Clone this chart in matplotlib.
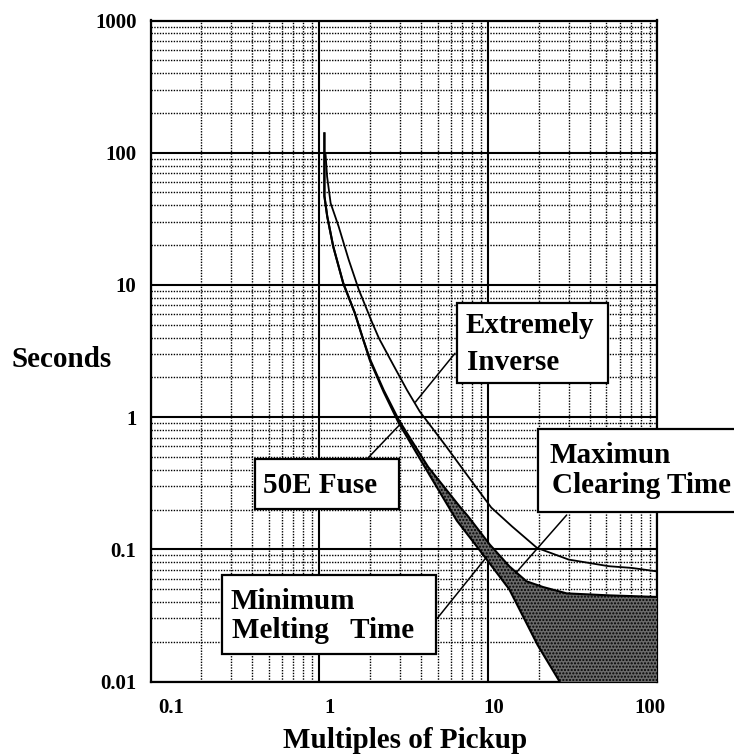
import matplotlib
matplotlib.use("Agg")
import matplotlib.pyplot as plt
from matplotlib.patches import Rectangle, ConnectionPatch
from matplotlib.ticker import LogLocator, NullFormatter, FixedLocator, FixedFormatter
from matplotlib.transforms import ScaledTranslation

plt.rcParams['font.family'] = ['Liberation Serif', 'DejaVu Serif']
plt.rcParams['hatch.color'] = 'black'
plt.rcParams['hatch.linewidth'] = 1.0

# Extremely inverse relay curve (multiples of pickup, seconds)
relay_x = [1.088, 1.11, 1.165, 1.30, 1.49, 1.71, 2.05, 2.25, 2.6, 2.8, 3.3, 3.93,
           5.53, 7.6, 10.4, 13.8, 19.4, 29.9, 51.6, 70.6, 100]
relay_y = [96, 66, 41.5, 27.6, 15.5, 9.2, 5.2, 3.95, 2.8, 2.35, 1.6, 1.10,
           0.618, 0.355, 0.207, 0.149, 0.1025, 0.0836, 0.0745, 0.0723, 0.068]

# 50E fuse, common upper part
fuse_top_x = [1.07, 1.07, 1.112, 1.207, 1.383, 1.62, 1.8]
fuse_top_y = [140, 47, 33, 19.5, 10.3, 6.13, 4.0]

# maximum clearing time
clear_x = [1.99, 2.4, 2.95, 4.40, 6.76, 7.6, 10.2, 13.3, 16.8, 21.1, 29.1, 52.3, 100]
clear_y = [2.75, 1.6, 0.95, 0.42, 0.211, 0.177, 0.1085, 0.0744, 0.0573, 0.0518,
           0.0464, 0.0448, 0.0436]

# minimum melting time
melt_x = [1.99, 2.4, 2.95, 4.40, 6.5, 8.8, 13.3, 19.6, 25.8, 30.0]
melt_y = [2.68, 1.55, 0.90, 0.38, 0.165, 0.1, 0.0498, 0.0188, 0.0105, 0.0075]

x_ticks = [0.1, 1, 10, 100]
x_labels = ['0.1', '1', '10', '100']
y_ticks = [0.01, 0.1, 1, 10, 100, 1000]
y_labels = ['0.01', '0.1', '1', '10', '100', '1000']

W, H = 734, 755
fig = plt.figure(figsize=(W / 100, H / 100), dpi=100)


def fpos(px, py):
    # pixel from top-left -> figure fraction
    return px / W, 1 - py / H


ax = fig.add_axes([150.5 / W, 1 - 681.5 / H, (657.3 - 150.5) / W, (681.5 - 20.5) / H])
ax.set_xscale('log')
ax.set_yscale('log')
ax.set_xlim(x_ticks[0], x_ticks[-1])
ax.set_ylim(y_ticks[0], y_ticks[-1])

ax.xaxis.set_major_locator(FixedLocator(x_ticks))
ax.xaxis.set_major_formatter(FixedFormatter(x_labels))
ax.yaxis.set_major_locator(FixedLocator(y_ticks))
ax.yaxis.set_major_formatter(FixedFormatter(y_labels))
for a in (ax.xaxis, ax.yaxis):
    a.set_minor_locator(LogLocator(base=10, subs=range(2, 10), numticks=20))
    a.set_minor_formatter(NullFormatter())

ax.grid(which='major', color='black', lw=1.5, ls='-')
ax.grid(which='minor', color='black', lw=1.0, ls=(0, (1, 1)))
ax.set_axisbelow(True)
ax.tick_params(which='both', length=0)
ax.tick_params(axis='y', pad=10, labelsize=15)
ax.tick_params(axis='x', pad=12, labelsize=15)
for lab in ax.get_xticklabels() + ax.get_yticklabels():
    lab.set_fontweight('bold')
for spine in ax.spines.values():
    spine.set_linewidth(1.6)

# nudge x tick labels like the original
x_shift = [21, 10, 5, -7]
for lab, dx in zip(ax.get_xticklabels(), x_shift):
    lab.set_transform(lab.get_transform() + ScaledTranslation(dx / 100, 0, fig.dpi_scale_trans))

# shaded band between minimum melting and maximum clearing
band_x = clear_x + [x_ticks[-1]] + melt_x[::-1]
band_y = clear_y + [y_ticks[0] / 2] + melt_y[::-1]
ax.fill(band_x, band_y, facecolor='#6a6a6a', edgecolor='black', linewidth=0,
        hatch='.....', zorder=3)

ax.plot(fuse_top_x + clear_x, fuse_top_y + clear_y, color='black', lw=1.5, zorder=4)
ax.plot(fuse_top_x + melt_x, fuse_top_y + melt_y, color='black', lw=1.5, zorder=4)
ax.plot(relay_x, relay_y, color='black', lw=1.3, zorder=4)

# axis titles
fig.text(*fpos(62, 366.7), 'Seconds', ha='center', va='baseline',
         fontsize=21, fontweight='bold')
fig.text(*fpos(405, 748), 'Multiples of Pickup', ha='center', va='baseline',
         fontsize=21, fontweight='bold')

# labelled boxes: (x0, y0, x1, y1) in pixels, text lines, pointer start, pointer end (data)
boxes = [
    ((456.7, 302.7, 608.3, 383.3), [('Extremely', 466, 333.3), ('Inverse', 467, 370)],
     (455, 353.3), (3.7, 1.3)),
    ((255, 459.3, 399, 509), [('50E Fuse', 263, 492.7)],
     (366.7, 459.3), (3.05, 0.9)),
    ((538.3, 429.3, 760, 511.7), [('Maximun', 550, 463.3), ('Clearing Time', 552, 493.3)],
     (566.7, 515), (14.5, 0.066)),
    ((221.7, 575, 436, 654), [('Minimum', 230, 609.3), ('Melting   Time', 232, 638)],
     (437.3, 618.3), (9.8, 0.088)),
]
for (x0, y0, x1, y1), lines, start, end in boxes:
    cp = ConnectionPatch(xyA=fpos(*start), coordsA=fig.transFigure,
                         xyB=end, coordsB=ax.transData, color='black', lw=1.1)
    fig.add_artist(cp)
    bx, by = fpos(x0, y1)
    rect = Rectangle((bx, by), (x1 - x0) / W, (y1 - y0) / H, transform=fig.transFigure,
                     facecolor='white', edgecolor='black', lw=1.6, zorder=5)
    fig.add_artist(rect)
    for txt, tx, ty in lines:
        t = fig.text(*fpos(tx, ty), txt, ha='left', va='baseline',
                     fontsize=21, fontweight='bold')
        t.set_zorder(6)

fig.savefig('out.png', dpi=100)
